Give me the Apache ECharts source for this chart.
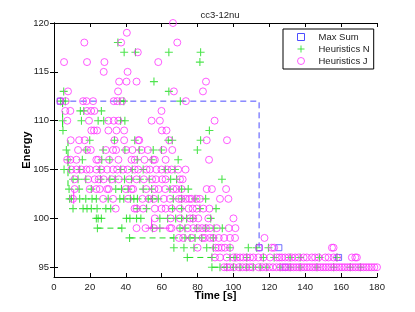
<!DOCTYPE html>
<html><head><meta charset="utf-8">
<script src="https://cdn.jsdelivr.net/npm/echarts@6/dist/echarts.min.js"></script>
<style>html,body{margin:0;padding:0;background:#fff}#c{width:415px;height:312px}</style>
</head><body><div id="c"></div>
<script>
// ---- data ----
var titleText = 'cc3-12nu';
var xTicks = [0,20,40,60,80,100,120,140,160,180];
var yTicks = [95,100,105,110,115,120];

// Max Sum: stair line points + extra markers
var maxSumLine = [[3.5,112],[114.3,97]];
var maxSumExtra = [[125.3,97],[128.8,95],[158.6,96]];

// Heuristics N (green +), rows by energy
var nRows = {
 118:[35.6],
 117:[39.1,45.4,64.0,81.7],
 116:[81.3],
 114:[55.7],
 113:[5.4,64.0],
 112:[3.7,6.3,36.7,38.9,70.4],
 111:[14.7,16.6,26.4],
 110:[4.8,15.3,24.6,27.7,37.1,39.5],
 109:[5.0,86.6],
 108:[19.9,33.7,45.0,63.7,65.9,81.7],
 107:[6.9,17.7,27.4,39.5,47.5,55.3,59.9,79.9],
 106:[7.8,15.8,26.6,31.1,46.4,54.4,69.2],
 105:[5.6,8.7,14.3,25.5,37.2,43.6,49.7,62.0,67.4],
 104:[10.6,13.4,17.7,25.9,31.1,34.1,39.3,43.2,47.8,53.1,65.0,68.3,93.6],
 103:[8.4,14.0,20.8,34.4,37.6,41.3,49.7,54.4,64.6,71.1,74.8],
 102:[8.7,9.7,14.3,17.7,21.2,23.6,30.2,36.7,38.9,42.6,44.5,46.5,52.5,54.9,58.1,66.5,71.1,78.6,84.5],
 101:[10.6,16.2,18.4,20.8,24.0,28.9,31.6,46.4,51.6,66.1,71.1,81.3,90.3],
 100:[23.6,24.6,26.4,40.4,42.3,46.0,48.4,59.0,63.3,67.8,71.1,73.9,77.3,87.3],
 99:[24.2,37.8,54.9,59.0,70.2,73.0,79.5,84.5,89.2,93.8],
 98:[42.1,66.8,73.0,75.8,78.6,82.3,88.8],
 97:[66.8,72.4,78.0,85.1,88.8,98.1,108.3,113.0,119.5],
 96:[74.3,88.0,98.1,100.9,107.4,116.7,122.7,131.6,137.2,148.0,157.7],
 95:[88.0,92.5,96.2,100.0,103.7,107.4,111.1,114.9,118.6,126.0,131.6,137.2,146.5,155.8,165.1,170.7]
};
// Heuristics N dashed run segments
var nSegments = [
 [[4.8,112],[4.8,109]],
 [[7.8,108],[7.8,103]],
 [[24.2,99],[37.8,99]],
 [[42.1,98],[66.8,98]],
 [[74.3,96],[88.0,96]],
 [[88.0,95],[100.0,95]]
];

// Heuristics J (magenta o), rows by energy
var jRows = {
 120:[66.3],
 119:[40.6],
 118:[16.9,37.4,68.7],
 117:[46.7],
 116:[5.6,18.4,28.1,58.1],
 115:[27.7,41.0],
 114:[36.3,40.4,46.0,84.7],
 113:[7.8,35.7,66.8,83.0],
 112:[3.5,6.5,16.2,18.1,21.8,33.3,35.2,38.0,73.5],
 111:[6.3,9.1,18.4,20.7,22.5,59.9],
 110:[7.4,19.5,30.3,33.3,35.9,54.4,59.0,89.5],
 109:[20.8,22.3,24.0,30.3,34.8,39.1,60.1,62.7],
 108:[9.3,14.0,17.1,33.7,39.1,46.9,47.5,64.2,85.1,96.4],
 107:[13.4,18.4,20.5,28.9,32.9,34.6,40.2,43.7,48.8,52.3,60.9,65.9],
 106:[7.3,9.1,12.5,23.6,24.6,30.7,35.9,43.2,45.0,50.4,55.3,56.2,62.2,86.4],
 105:[9.7,12.5,15.3,18.1,19.9,23.6,26.4,29.6,32.9,35.2,38.5,41.0,45.0,46.9,51.6,53.4,57.1,59.9,63.1,65.5,69.2,73.3],
 104:[11.5,19.0,22.7,24.9,27.7,32.2,36.1,41.9,46.0,50.1,54.7,56.8,60.3,62.2,70.2,71.7],
 103:[11.5,19.9,23.6,25.5,29.6,30.5,40.0,43.2,44.1,51.4,56.0,58.3,62.0,66.5,68.3,71.1,85.1,88.0,95.9],
 102:[10.6,27.4,32.9,41.3,49.3,52.9,55.7,61.2,64.6,69.6,71.1,73.5,75.4,76.7,79.5,81.3,92.5,97.2],
 101:[34.4,44.9,46.0,49.7,56.2,59.9,62.2,65.5,70.2,75.0,77.3,79.5,83.2,86.6],
 100:[56.2,65.0,70.2,75.8,77.6,80.4,86.0,100.0],
 99:[46.0,51.0,55.7,64.6,65.5,70.2,74.5,77.6,80.2,82.5,84.7,86.9,90.7,97.4,101.1],
 98:[69.6,72.0,76.7,82.8,84.1,86.9,88.8,91.8,94.8,98.1,100.9,117.3],
 97:[80.0,90.1,91.6,93.4,95.3,98.1,114.3,121.4,122.7,154.9,155.8],
 96:[89.7,92.5,96.2,100.0,101.8,103.7,105.5,107.4,109.3,111.1,113.9,116.7,120.4,124.2,125.6,127.0,128.8,130.7,132.5,134.4,136.3,139.1,140.9,143.7,145.5,147.4,151.2,153.0,155.8,157.7,166.0,167.9,168.8],
 95:[94.8,96.5,98.0,100.2,103.0,105.0,107.0,109.0,110.5,114.0,116.0,118.0,120.0,122.0,124.0,126.0,127.5,129.0,130.5,132.0,133.5,135.0,136.5,138.0,139.5,141.0,142.5,144.0,145.5,147.0,148.5,150.0,151.5,153.0,154.5,156.0,157.5,159.0,160.5,162.0,163.5,165.0,166.5,168.0,169.5,171.0,172.5,174.0,175.5,177.0,178.5,180.0]
};
// Heuristics J run segments
var jSegments = [
 [[51.0,99],[64.6,99]],
 [[11.0,103],[11.0,101.5]],
 [[54.4,100],[54.4,99]]
];

// ---- build ----
function rowsToPoints(rows){
  var out=[];
  Object.keys(rows).forEach(function(k){
    rows[k].forEach(function(t){ out.push([t, Number(k)]); });
  });
  return out;
}
var BLUE='#4d4dff', GREEN='#22dd22', MAG='#ff33ff';
var plusPath='path://M5,0L5,10M0,5L10,5';

var series=[];
series.push({name:'Max Sum', type:'line', step:'end', data:maxSumLine, symbol:'rect', symbolSize:6,
  lineStyle:{color:BLUE, width:1, type:[6,4]},
  itemStyle:{color:'rgba(0,0,0,0)', borderColor:BLUE, borderWidth:1}, z:2});
series.push({name:'Max Sum', type:'scatter', data:maxSumExtra, symbol:'rect', symbolSize:6,
  itemStyle:{color:'rgba(0,0,0,0)', borderColor:BLUE, borderWidth:1}, z:2});
nSegments.forEach(function(s,i){
  series.push({name:'nseg'+i, type:'line', data:s, showSymbol:false, symbol:'none',
    lineStyle:{color:GREEN, width:1, type:[6,4]}, z:3});
});
series.push({name:'Heuristics N', type:'scatter', data:rowsToPoints(nRows), symbol:plusPath, symbolSize:8,
  itemStyle:{color:'rgba(0,0,0,0)', borderColor:GREEN, borderWidth:1.1}, z:3});
jSegments.forEach(function(s,i){
  series.push({name:'jseg'+i, type:'line', data:s, showSymbol:false, symbol:'none',
    lineStyle:{color:MAG, width:1}, z:4});
});
series.push({name:'Heuristics J', type:'scatter', data:rowsToPoints(jRows), symbol:'circle', symbolSize:7,
  itemStyle:{color:'rgba(0,0,0,0)', borderColor:MAG, borderWidth:1}, z:4});

var FONT='Liberation Sans';
var axisCommon = {
  min:0, max:180, interval:20, type:'value',
  axisLine:{lineStyle:{color:'#000', width:1}},
  axisTick:{inside:true, length:4, lineStyle:{color:'#000'}},
  splitLine:{show:false}
};
var chart = echarts.init(document.getElementById('c'), null, {renderer:'canvas'});
chart.setOption({
  animation:false,
  backgroundColor:'#fff',
  title:{text:titleText, left:215, top:5, textAlign:'center',
    textStyle:{fontFamily:FONT, fontSize:9.5, fontWeight:'normal', color:'#222'}},
  grid:{left:54, right:38, top:23, bottom:35},
  legend:{
    orient:'vertical', left:283, top:29,
    data:[
      {name:'Max Sum', icon:'rect', itemStyle:{color:'rgba(0,0,0,0)', borderColor:BLUE, borderWidth:1}},
      {name:'Heuristics N', icon:plusPath, itemStyle:{color:'rgba(0,0,0,0)', borderColor:GREEN, borderWidth:1}},
      {name:'Heuristics J', icon:'circle', itemStyle:{color:'rgba(0,0,0,0)', borderColor:MAG, borderWidth:1}}
    ],
    itemWidth:7, itemHeight:7, itemGap:2,
    padding:[3,4,3,14],
    backgroundColor:'#fff', borderColor:'#000', borderWidth:1, borderRadius:0,
    textStyle:{fontFamily:FONT, fontSize:9.5, color:'#222', padding:[0,0,0,9]},
    selectedMode:false
  },
  xAxis:[
    Object.assign({}, axisCommon, {position:'bottom', name:'Time [s]', nameLocation:'middle', nameGap:13,
      nameMoveOverlap:false,
      nameTextStyle:{fontFamily:FONT, fontSize:11, fontWeight:'bold', color:'#000'},
      axisLabel:{fontFamily:FONT, fontSize:9.5, color:'#222', margin:5}}),
    Object.assign({}, axisCommon, {position:'top', axisLabel:{show:false}})
  ],
  yAxis:[
    {type:'value', min:94, max:120, position:'left',
     name:'Energy', nameLocation:'middle', nameGap:22, nameRotate:90, nameMoveOverlap:false,
     nameTextStyle:{fontFamily:FONT, fontSize:11, fontWeight:'bold', color:'#000'},
     axisLine:{lineStyle:{color:'#000', width:1}},
     axisTick:{inside:true, length:4, customValues:yTicks, lineStyle:{color:'#000'}},
     axisLabel:{customValues:yTicks, fontFamily:FONT, fontSize:9.5, color:'#222', margin:5},
     splitLine:{show:false}},
    {type:'value', min:94, max:120, position:'right',
     axisLine:{show:true, lineStyle:{color:'#000', width:1}},
     axisTick:{inside:true, length:4, customValues:yTicks, lineStyle:{color:'#000'}},
     axisLabel:{show:false, customValues:yTicks},
     splitLine:{show:false}}
  ],
  series:series
});
</script></body></html>
